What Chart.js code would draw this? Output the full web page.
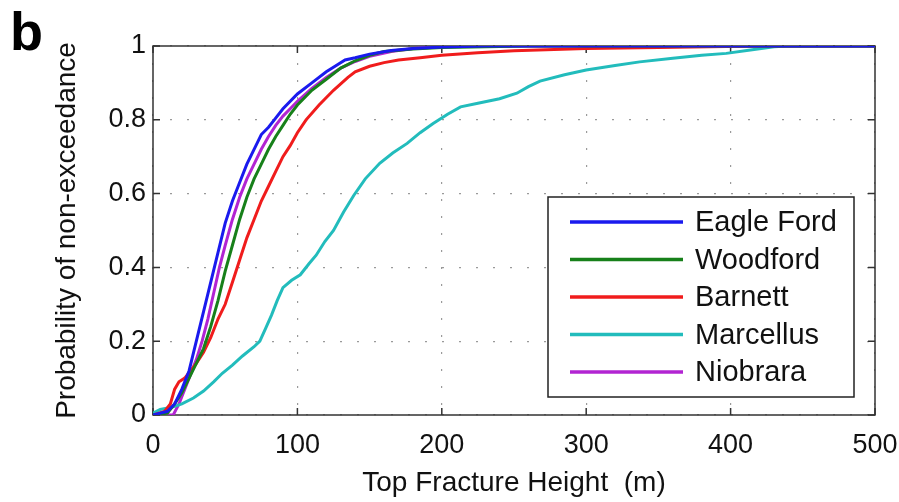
<!DOCTYPE html>
<html>
<head>
<meta charset="utf-8">
<title>Top fracture height CDF</title>
<script src="https://cdn.jsdelivr.net/npm/chart.js@4/dist/chart.umd.min.js"></script>
<style>
  html, body { margin: 0; padding: 0; background: #fff; }
  canvas { display: block; }
</style>
</head>
<body>
<canvas id="cdf" width="899" height="502"></canvas>
<script>
// values (x in m, y = probability)
const xTicks = [0, 100, 200, 300, 400, 500];
const yTicks = [0, 0.2, 0.4, 0.6, 0.8, 1];

const eagleFordX = [0, 10, 15, 20, 25, 30, 35, 40, 45, 50, 55, 60, 65, 70, 75, 80, 84, 90, 100, 110, 120, 128, 133, 140, 150, 165, 180, 200, 230, 500];
const eagleFordY = [0, 0.01, 0.03, 0.07, 0.12, 0.2, 0.28, 0.36, 0.44, 0.52, 0.58, 0.63, 0.68, 0.72, 0.76, 0.78, 0.8, 0.83, 0.87, 0.9, 0.93, 0.95, 0.962, 0.968, 0.978, 0.988, 0.993, 0.997, 1, 1];

const woodfordX = [0, 10, 15, 20, 25, 30, 35, 40, 45, 50, 55, 60, 65, 70, 75, 80, 85, 90, 95, 100, 110, 120, 130, 140, 150, 160, 180, 200, 230, 260, 500];
const woodfordY = [0, 0.005, 0.03, 0.06, 0.1, 0.14, 0.18, 0.24, 0.31, 0.39, 0.46, 0.53, 0.59, 0.64, 0.68, 0.72, 0.755, 0.785, 0.815, 0.84, 0.88, 0.91, 0.94, 0.96, 0.975, 0.985, 0.992, 0.996, 0.998, 1, 1];

const barnettX = [0, 8, 12, 15, 18, 22, 26, 30, 35, 40, 45, 50, 55, 60, 65, 70, 75, 80, 85, 90, 95, 100, 106, 115, 125, 135, 140, 150, 160, 170, 185, 200, 225, 250, 300, 350, 420, 500];
const barnettY = [0, 0.01, 0.03, 0.07, 0.09, 0.1, 0.12, 0.14, 0.17, 0.21, 0.26, 0.3, 0.36, 0.42, 0.48, 0.53, 0.58, 0.62, 0.66, 0.7, 0.73, 0.765, 0.8, 0.84, 0.88, 0.915, 0.93, 0.945, 0.955, 0.962, 0.968, 0.975, 0.982, 0.987, 0.993, 0.996, 1, 1];

const marcellusX = [0, 5, 14, 20, 28, 35, 42, 48, 55, 62, 70, 74, 78, 82, 86, 90, 96, 102, 108, 113, 119, 125, 132, 139, 147, 157, 166, 176, 185, 194, 204, 213, 225, 240, 252, 260, 268, 285, 300, 320, 337, 360, 380, 397, 415, 430, 440, 500];
const marcellusY = [0.005, 0.015, 0.022, 0.03, 0.046, 0.065, 0.09, 0.113, 0.135, 0.16, 0.185, 0.2, 0.235, 0.27, 0.31, 0.345, 0.365, 0.38, 0.41, 0.433, 0.47, 0.5, 0.55, 0.595, 0.64, 0.682, 0.71, 0.736, 0.765, 0.79, 0.815, 0.835, 0.845, 0.857, 0.872, 0.89, 0.905, 0.922, 0.935, 0.947, 0.957, 0.967, 0.975, 0.98, 0.99, 0.998, 1, 1];

const niobraraX = [0, 14, 18, 22, 26, 30, 34, 38, 42, 46, 50, 55, 60, 65, 70, 75, 80, 85, 90, 95, 100, 110, 120, 130, 140, 150, 165, 180, 200, 215, 500];
const niobraraY = [0, 0, 0.03, 0.07, 0.11, 0.15, 0.2, 0.26, 0.33, 0.4, 0.46, 0.53, 0.59, 0.64, 0.68, 0.72, 0.755, 0.785, 0.81, 0.83, 0.85, 0.885, 0.915, 0.94, 0.958, 0.972, 0.985, 0.993, 0.998, 1, 1];

const toPoints = (xs, ys) => xs.map((x, i) => ({ x: x, y: ys[i] }));

const series = [
    { label: "Eagle Ford", x: eagleFordX, y: eagleFordY, color: "#1a1aee" },
    { label: "Woodford", x: woodfordX, y: woodfordY, color: "#17801a" },
    { label: "Barnett", x: barnettX, y: barnettY, color: "#f01c1c" },
    { label: "Marcellus", x: marcellusX, y: marcellusY, color: "#22bcbc" },
    { label: "Niobrara", x: niobraraX, y: niobraraY, color: "#b224d2" },
];

const FONT = "'Liberation Sans', Arial, Helvetica, sans-serif";

// box round the axes plus matlab style inward ticks
const framePlugin = {
    id: "frame",
    beforeDatasetsDraw(chart) {
        const { ctx, chartArea: a, scales } = chart;
        ctx.save();
        ctx.strokeStyle = "#333";
        ctx.lineWidth = 1.5;
        ctx.strokeRect(a.left, a.top, a.right - a.left, a.bottom - a.top);
        ctx.beginPath();
        xTicks.forEach((v) => {
            const px = scales.x.getPixelForValue(v);
            ctx.moveTo(px, a.bottom); ctx.lineTo(px, a.bottom - 7);
            ctx.moveTo(px, a.top); ctx.lineTo(px, a.top + 7);
        });
        yTicks.forEach((v) => {
            const py = scales.y.getPixelForValue(v);
            ctx.moveTo(a.left, py); ctx.lineTo(a.left + 7, py);
            ctx.moveTo(a.right, py); ctx.lineTo(a.right - 7, py);
        });
        ctx.stroke();
        ctx.restore();
    },
    afterDraw(chart) {
        const ctx = chart.ctx;
        ctx.save();
        ctx.fillStyle = "#000";
        ctx.font = "bold 54px " + FONT;
        ctx.textBaseline = "alphabetic";
        ctx.fillText("b", 10, 50);
        ctx.restore();
    },
};

// legend box inside the plot, lower right
const boxLegend = {
    id: "boxLegend",
    afterDatasetsDraw(chart) {
        const { ctx } = chart;
        const left = 548, top = 197, w = 306, h = 200;
        ctx.save();
        ctx.fillStyle = "#fff";
        ctx.fillRect(left, top, w, h);
        ctx.strokeStyle = "#222";
        ctx.lineWidth = 1.5;
        ctx.strokeRect(left, top, w, h);
        ctx.font = "29px " + FONT;
        ctx.textBaseline = "middle";
        chart.data.datasets.forEach((ds, i) => {
            const y = top + 25 + i * 37.5;
            ctx.strokeStyle = ds.borderColor;
            ctx.lineWidth = 3.5;
            ctx.beginPath();
            ctx.moveTo(left + 22, y);
            ctx.lineTo(left + 135, y);
            ctx.stroke();
            ctx.fillStyle = "#111";
            ctx.fillText(ds.label, left + 147, y + 1);
        });
        ctx.restore();
    },
};

new Chart(document.getElementById("cdf"), {
    type: "scatter",
    data: {
        datasets: series.map((s) => ({
            label: s.label,
            data: toPoints(s.x, s.y),
            showLine: true,
            borderColor: s.color,
            backgroundColor: s.color,
            borderWidth: 3,
            pointRadius: 0,
            tension: 0,
        })),
    },
    options: {
        responsive: false,
        devicePixelRatio: 1,
        animation: false,
        events: [],
        layout: { padding: { top: 46, right: 24, left: 0, bottom: 0 } },
        plugins: {
            legend: { display: false },
            tooltip: { enabled: false },
        },
        scales: {
            x: {
                type: "linear",
                min: 0,
                max: 500,
                afterBuildTicks: (scale) => { scale.ticks = xTicks.map((v) => ({ value: v })); },
                afterFit: (scale) => { scale.height = 87; scale.paddingLeft = 0; scale.paddingRight = 0; },
                grid: { color: "#9a9a9a", lineWidth: 1.2, drawTicks: false },
                border: { display: false, dash: [2, 15] },
                ticks: { color: "#111", padding: 14, maxRotation: 0, font: { family: FONT, size: 27 }, callback: (v) => String(v) },
                title: {
                    display: true,
                    text: "Top Fracture Height  (m)",
                    color: "#111",
                    padding: { top: 0, bottom: 5 },
                    font: { family: FONT, size: 28, lineHeight: 1 },
                },
            },
            y: {
                type: "linear",
                min: 0,
                max: 1,
                afterBuildTicks: (scale) => { scale.ticks = yTicks.map((v) => ({ value: v })); },
                afterFit: (scale) => { scale.width = 153; scale.paddingTop = 0; scale.paddingBottom = 0; },
                grid: { color: "#9a9a9a", lineWidth: 1.2, drawTicks: false },
                border: { display: false, dash: [2, 15] },
                ticks: { color: "#111", padding: 7, font: { family: FONT, size: 27 }, callback: (v) => String(v) },
                title: {
                    display: true,
                    text: "Probability of non-exceedance",
                    color: "#111",
                    padding: { top: 53, bottom: 0 },
                    font: { family: FONT, size: 28, lineHeight: 1 },
                },
            },
        },
    },
    plugins: [framePlugin, boxLegend],
});
</script>
</body>
</html>
